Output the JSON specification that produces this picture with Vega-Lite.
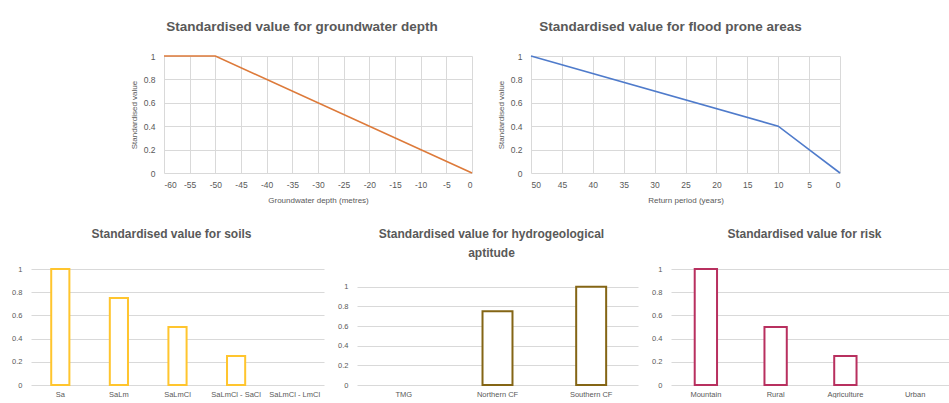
{
  "$schema": "https://vega.github.io/schema/vega-lite/v6.json",
  "padding": {"left": 11, "top": 19, "right": 0, "bottom": 0},
  "background": "white",
  "bounds": "flush",
  "spacing": 213,
  "config": {
    "font": "Liberation Sans",
    "view": {"stroke": null},
    "title": {"font": "Liberation Sans", "fontWeight": "bold", "color": "#595959", "anchor": "middle"},
    "axis": {
      "domain": false, "ticks": false, "gridColor": "#d9d9d9", "gridWidth": 1,
      "labelColor": "#595959", "titleColor": "#595959", "labelFont": "Liberation Sans", "titleFont": "Liberation Sans",
      "titleFontWeight": "normal", "labelExpr": "'' + datum.value"
    }
  },
  "vconcat": [
    {
      "bounds": "flush",
      "spacing": 59,
      "hconcat": [
        {"width": 74, "height": 117, "data": {"values": []}, "mark": "point"},
        {
          "width": 308, "height": 117,
          "title": {"text": "Standardised value for groundwater depth", "fontSize": 13.5, "offset": 19, "dx": -16},
          "data": {"values": [{"depth": -60, "value": 1}, {"depth": -50, "value": 1}, {"depth": 0, "value": 0}]},
          "mark": {"type": "line", "color": "#DD7A3A", "strokeWidth": 1.6},
          "encoding": {
            "x": {"field": "depth", "type": "quantitative", "scale": {"domain": [-60, 0], "nice": false},
                  "axis": {"values": [-60,-55,-50,-45,-40,-35,-30,-25,-20,-15,-10,-5,0], "grid": true, "labelFontSize": 8.5, "labelPadding": 7, "title": "Groundwater depth (metres)", "titleFontSize": 8, "titlePadding": 8}},
            "y": {"field": "value", "type": "quantitative", "scale": {"domain": [0, 1], "nice": false},
                  "axis": {"values": [0, 0.2, 0.4, 0.6, 0.8, 1], "grid": true, "labelFontSize": 8.5, "labelPadding": 9, "title": "Standardised value", "titleFontSize": 8, "titlePadding": 5}}
          }
        },
        {
          "width": 309, "height": 117,
          "title": {"text": "Standardised value for flood prone areas", "fontSize": 13.5, "offset": 19, "dx": -15},
          "data": {"values": [{"period": 50, "value": 1}, {"period": 10, "value": 0.4}, {"period": 5, "value": 0.2}, {"period": 0, "value": 0}]},
          "mark": {"type": "line", "color": "#4F7BCB", "strokeWidth": 1.6},
          "encoding": {
            "x": {"field": "period", "type": "quantitative", "scale": {"domain": [0, 50], "nice": false, "reverse": true},
                  "axis": {"values": [50,45,40,35,30,25,20,15,10,5,0], "grid": true, "labelFontSize": 8.5, "labelPadding": 7, "title": "Return period (years)", "titleFontSize": 8, "titlePadding": 8}},
            "y": {"field": "value", "type": "quantitative", "scale": {"domain": [0, 1], "nice": false},
                  "axis": {"values": [0, 0.2, 0.4, 0.6, 0.8, 1], "grid": true, "labelFontSize": 8.5, "labelPadding": 9, "title": "Standardised value", "titleFontSize": 8, "titlePadding": 5}}
          }
        }
      ]
    },
    {
      "bounds": "flush",
      "spacing": 33,
      "hconcat": [
        {
          "width": 293, "height": 116,
          "title": {"text": "Standardised value for soils", "fontSize": 12, "offset": 24, "dx": -6},
          "data": {"values": [
            {"soil": "Sa", "value": 1}, {"soil": "SaLm", "value": 0.75}, {"soil": "SaLmCl", "value": 0.5},
            {"soil": "SaLmCl - SaCl", "value": 0.25}, {"soil": "SaLmCl - LmCl", "value": 0}]},
          "mark": {"type": "bar", "fill": "white", "stroke": "#FFC52E", "strokeWidth": 2, "width": {"band": 0.31}},
          "encoding": {
            "x": {"field": "soil", "type": "nominal", "sort": null, "scale": {"paddingInner": 0, "paddingOuter": 0},
                  "axis": {"title": null, "labelAngle": 0, "labelFontSize": 7.5, "labelPadding": 5, "grid": false, "labelExpr": "datum.label"}},
            "y": {"field": "value", "type": "quantitative", "scale": {"domain": [0, 1], "nice": false},
                  "axis": {"values": [0, 0.2, 0.4, 0.6, 0.8, 1], "grid": true, "title": null, "labelFontSize": 7.5, "labelPadding": 9}},
            "strokeOpacity": {"condition": {"test": "datum.value == 0", "value": 0}, "value": 1}
          }
        },
        {
          "width": 281, "height": 116,
          "title": {"text": ["Standardised value for hydrogeological", "aptitude"], "fontSize": 12, "lineHeight": 19, "offset": 9, "dx": -6},
          "data": {"values": [
            {"unit": "TMG", "value": 0}, {"unit": "Northern CF", "value": 0.75}, {"unit": "Southern CF", "value": 1}]},
          "mark": {"type": "bar", "fill": "white", "stroke": "#846515", "strokeWidth": 2, "width": {"band": 0.32}},
          "encoding": {
            "x": {"field": "unit", "type": "nominal", "sort": null, "scale": {"paddingInner": 0, "paddingOuter": 0},
                  "axis": {"title": null, "labelAngle": 0, "labelFontSize": 7.5, "labelPadding": 5, "grid": false, "labelExpr": "datum.label"}},
            "y": {"field": "value", "type": "quantitative", "scale": {"domain": [0, 1.18], "nice": false},
                  "axis": {"values": [0, 0.2, 0.4, 0.6, 0.8, 1], "grid": true, "title": null, "labelFontSize": 7.5, "labelPadding": 9}},
            "strokeOpacity": {"condition": {"test": "datum.value == 0", "value": 0}, "value": 1}
          }
        },
        {
          "width": 279, "height": 116,
          "title": {"text": "Standardised value for risk", "fontSize": 12, "offset": 24, "dx": -6},
          "data": {"values": [
            {"land": "Mountain", "value": 1}, {"land": "Rural", "value": 0.5}, {"land": "Agriculture", "value": 0.25}, {"land": "Urban", "value": 0}]},
          "mark": {"type": "bar", "fill": "white", "stroke": "#B8305F", "strokeWidth": 2, "width": {"band": 0.32}},
          "encoding": {
            "x": {"field": "land", "type": "nominal", "sort": null, "scale": {"paddingInner": 0, "paddingOuter": 0},
                  "axis": {"title": null, "labelAngle": 0, "labelFontSize": 7.5, "labelPadding": 5, "grid": false, "labelExpr": "datum.label"}},
            "y": {"field": "value", "type": "quantitative", "scale": {"domain": [0, 1], "nice": false},
                  "axis": {"values": [0, 0.2, 0.4, 0.6, 0.8, 1], "grid": true, "title": null, "labelFontSize": 7.5, "labelPadding": 9}},
            "strokeOpacity": {"condition": {"test": "datum.value == 0", "value": 0}, "value": 1}
          }
        }
      ]
    }
  ]
}
